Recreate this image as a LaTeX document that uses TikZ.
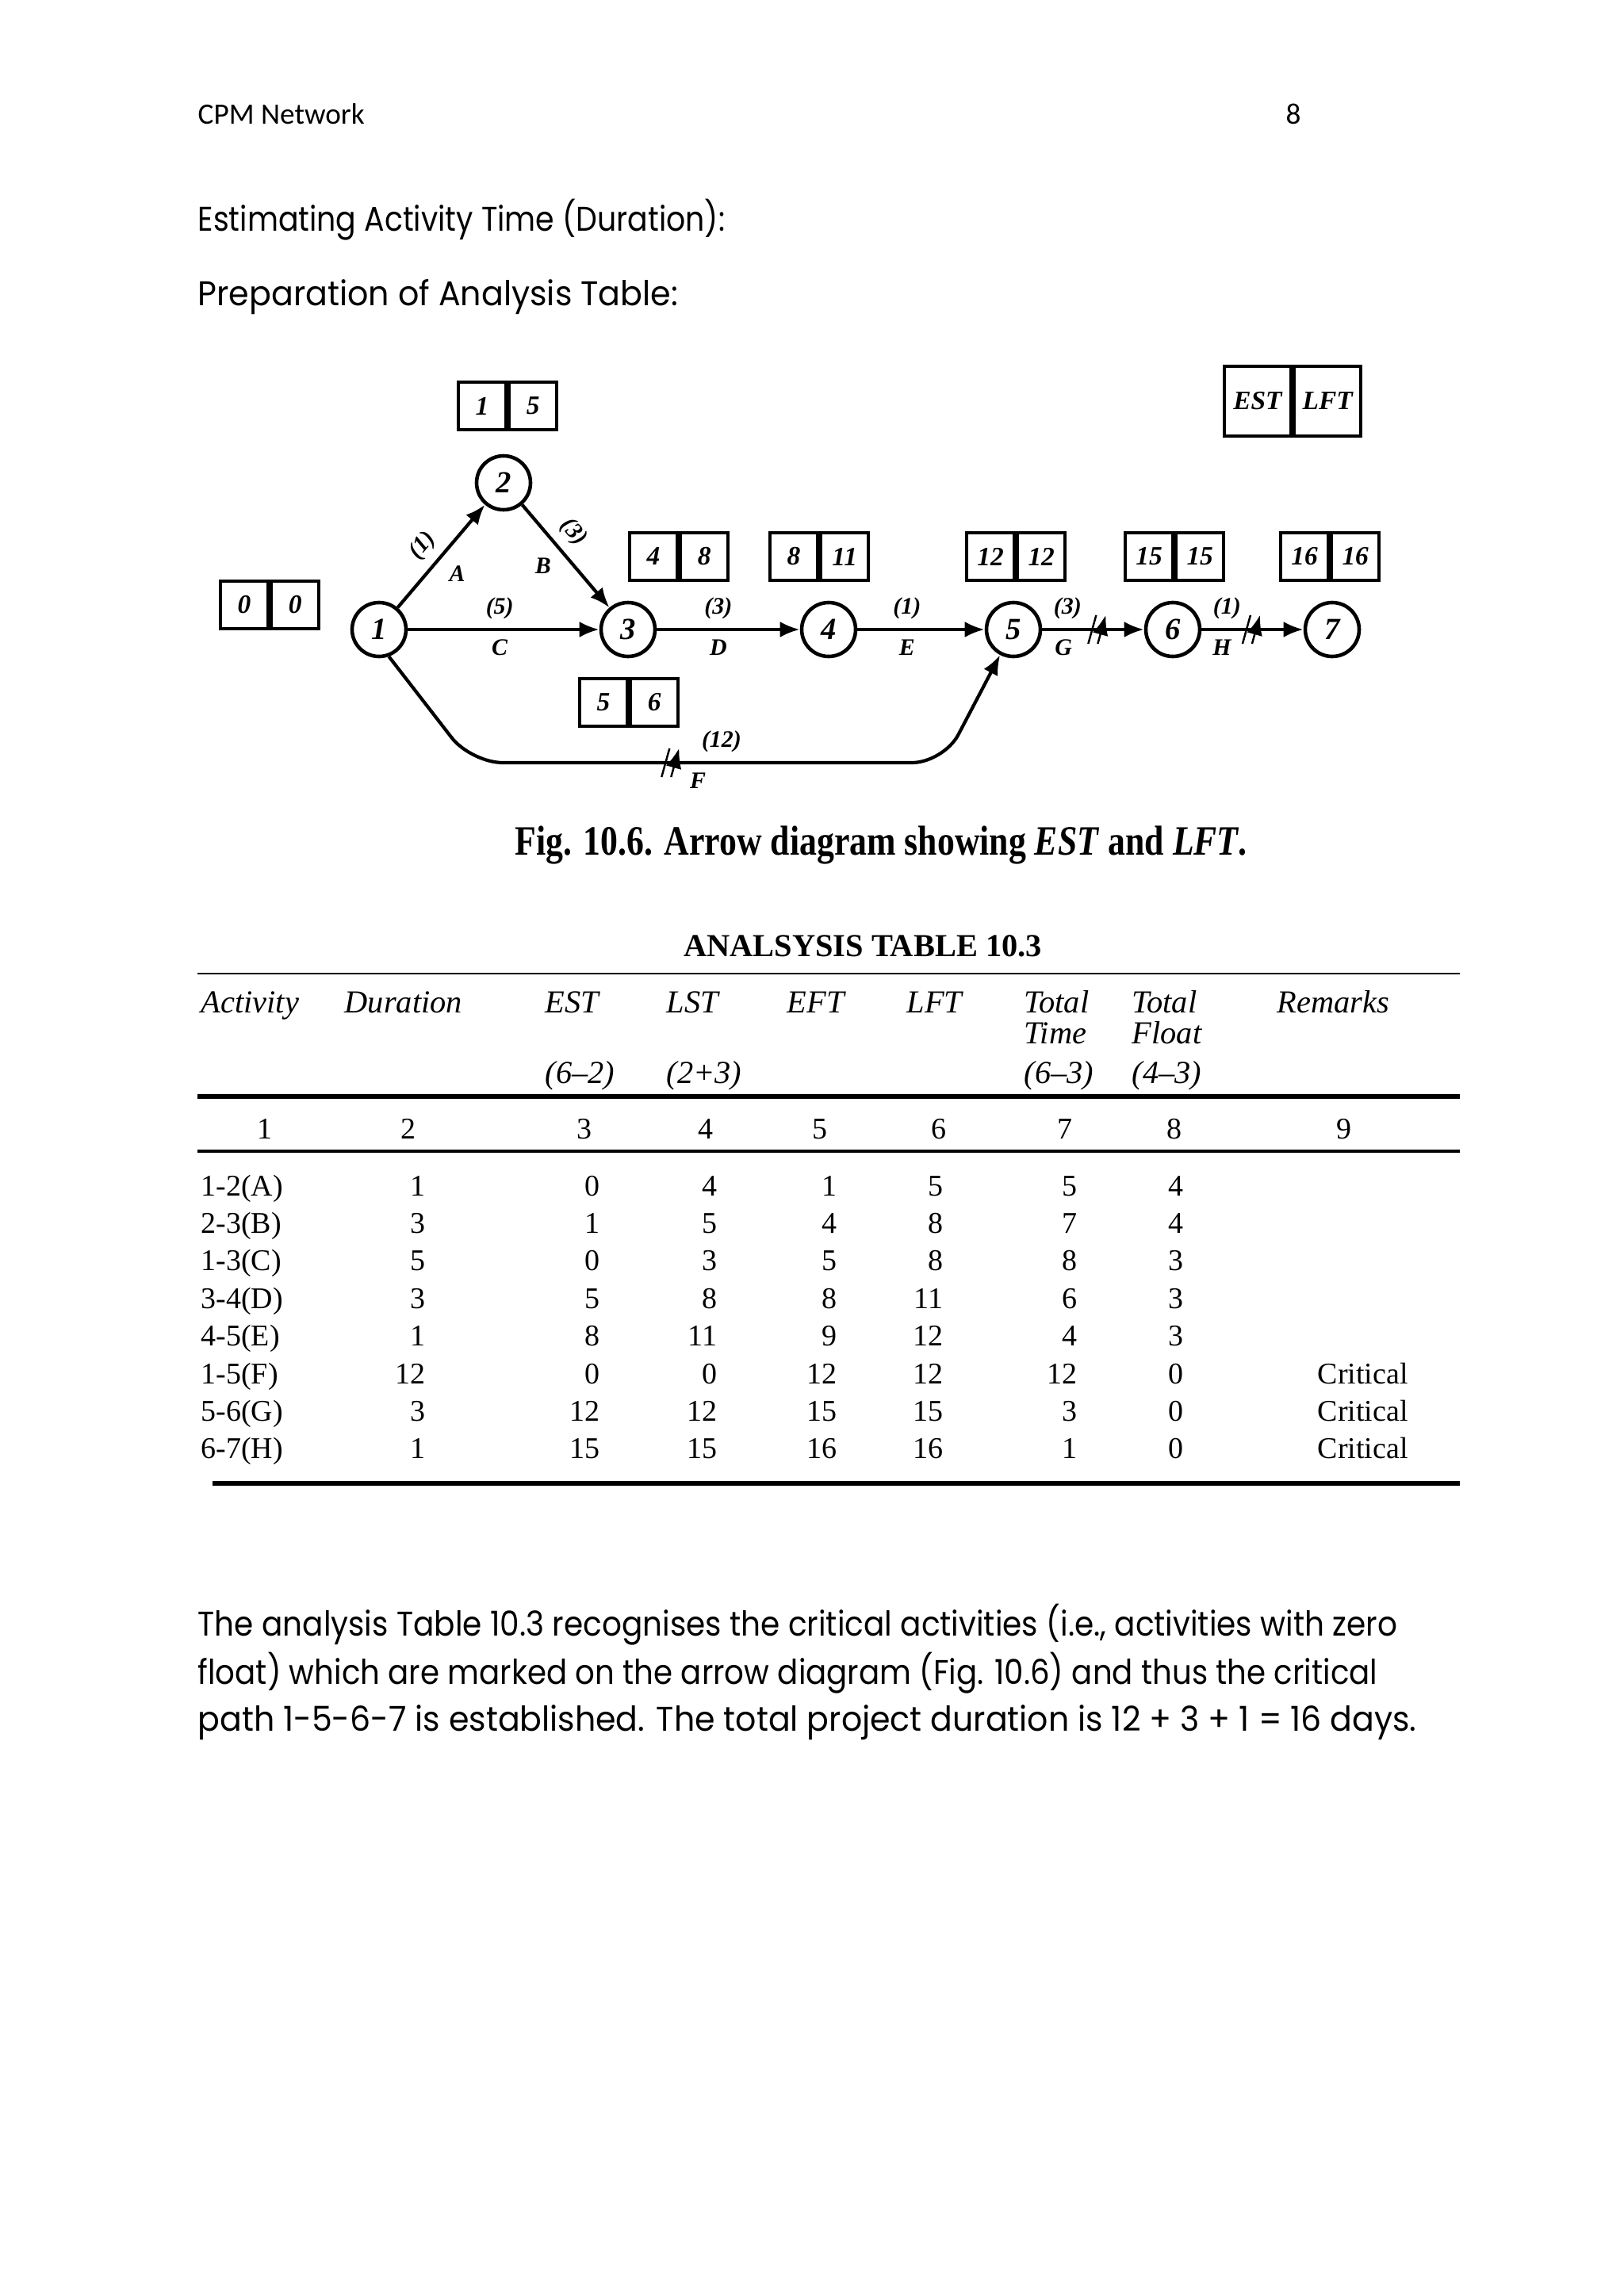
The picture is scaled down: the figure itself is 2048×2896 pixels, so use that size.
\documentclass[tikz,border=0pt]{standalone}
\usepackage{fontspec,graphicx}
\usetikzlibrary{arrows.meta,positioning}
\setmainfont{Liberation Serif}
\newfontfamily\gothic{Poppins}
\newfontfamily\calib{Carlito}
\newcommand\squeeze[2]{\scalebox{#1}[1]{#2}}

\begin{document}
\begin{tikzpicture}[x=0.1mm,y=-0.1mm,>={Latex[length=2.5mm,width=2mm]},
  every node/.style={inner sep=0pt},
  event/.style={draw,circle,line width=1.3pt,minimum size=6.8mm,font=\bfseries\itshape\fontsize{11}{11}\selectfont},
  cell/.style={draw,line width=1.2pt,minimum width=6mm,minimum height=6mm,font=\bfseries\itshape\fontsize{9.5}{9.5}\selectfont},
  keycell/.style={cell,minimum width=8.4mm,minimum height=8.8mm},
  act/.style={->,line width=1.2pt},
  lbl/.style={font=\bfseries\itshape\fontsize{8.5}{8.5}\selectfont,inner sep=1.1mm},
  hashmark/.pic={\draw[line width=.7pt] (-1mm,-1.8mm) -- (0mm,1.8mm) (0.2mm,-1.8mm) -- (1.2mm,1.8mm);},
  thead/.style={font=\itshape\fontsize{11.5}{12}\selectfont,anchor=base west},
  tval/.style={font=\fontsize{10.8}{12}\selectfont,anchor=base east},
  para/.style={font=\gothic\fontsize{12.3}{14}\selectfont,anchor=base west}]
\useasboundingbox (0,0) rectangle (2048,2896);

% page text
\node[font=\calib\fontsize{10.6}{13}\selectfont,anchor=base west] (hdr) at (249,157) {CPM Network};
\node[font=\calib\fontsize{10.6}{13}\selectfont,anchor=base] (pg) at (1631,157) {8};
\node[para] (h1) at (249,292) {\squeeze{0.876}{Estimating Activity Time (Duration):}};
\node[para] (h2) at (249,386) {\squeeze{0.953}{Preparation of Analysis Table:}};

% events
\node[event] (n1) at (478,794) {1};
\node[event] (n2) at (635,609) {2};
\node[event] (n3) at (792,794) {3};
\node[event] (n4) at (1045,794) {4};
\node[event] (n5) at (1278,794) {5};
\node[event] (n6) at (1479,794) {6};
\node[event] (n7) at (1680,794) {7};

% EST | LFT boxes
\node[cell] (e1) at (308,763) {0};  \node[cell,right=0pt of e1] (l1) {0};
\node[cell] (e2) at (608,512) {1};  \node[cell,right=0pt of e2] (l2) {5};
\node[cell] (e3) at (824,702) {4};  \node[cell,right=0pt of e3] (l3) {8};
\node[cell] (e3b) at (761,886) {5}; \node[cell,right=0pt of e3b] (l3b) {6};
\node[cell] (e4) at (1001,702) {8}; \node[cell,right=0pt of e4] (l4) {11};
\node[cell] (e5) at (1249,702) {12}; \node[cell,right=0pt of e5] (l5) {12};
\node[cell] (e6) at (1449,702) {15}; \node[cell,right=0pt of e6] (l6) {15};
\node[cell] (e7) at (1645,702) {16}; \node[cell,right=0pt of e7] (l7) {16};
\node[keycell] (ek) at (1586,506) {EST}; \node[keycell,right=0pt of ek] (lk) {LFT};

% activities
\draw[act] (n1) -- node[lbl,sloped,above,pos=.47]{(1)} node[lbl,below right,inner sep=.9mm,pos=.49]{A} (n2);
\draw[act] (n2) -- node[lbl,sloped,above,pos=.4]{(3)} node[lbl,below left,inner sep=.9mm,pos=.43]{B} (n3);
\draw[act] (n1) -- node[lbl,above,pos=.48]{(5)} node[lbl,below,pos=.48]{C} (n3);
\draw[act] (n3) -- node[lbl,above,pos=.43]{(3)} node[lbl,below,pos=.43]{D} (n4);
\draw[act] (n4) -- node[lbl,above,pos=.39]{(1)} node[lbl,below,pos=.39]{E} (n5);
\draw[act] (n5) -- node[lbl,above,pos=.25]{(3)} node[lbl,below,pos=.21]{G} pic[pos=.53]{hashmark} (n6);
\draw[act] (n6) -- node[lbl,above,pos=.25]{(1)} node[lbl,below,pos=.2]{H} pic[pos=.48]{hashmark} (n7);
\coordinate (fl) at (594,962);
\coordinate (fr) at (1190,962);
\draw[act,rounded corners=4mm] (n1.-70) -- (fl) -- node[lbl,above,pos=.53]{(12)} node[lbl,below,pos=.48]{F} pic[pos=.42]{hashmark} (fr) -- (n5);

\node[font=\bfseries\fontsize{15}{15}\selectfont] (cap) at (1111,1066)
  {\squeeze{0.83}{Fig. 10.6. Arrow diagram showing \textit{EST} and \textit{LFT}.}};

% analysis table
\node[font=\bfseries\fontsize{11.5}{12}\selectfont] (ttl) at (1088,1193) {ANALSYSIS TABLE 10.3};
\draw[line width=0.8pt] (249,1228) -- (1841,1228);
\draw[line width=1.6pt] (249,1383) -- (1841,1383);
\draw[line width=1.1pt] (249,1452) -- (1841,1452);
\draw[line width=1.6pt] (268,1871) -- (1841,1871);

\node[thead] (hA) at (253,1277) {Activity};
\node[thead] (hB) at (434,1277) {Duration};
\node[thead] (hC) at (687,1277) {EST};
\node[thead] (hD) at (840,1277) {LST};
\node[thead] (hE) at (992,1277) {EFT};
\node[thead] (hF) at (1143,1277) {LFT};
\node[thead] (hG) at (1291,1277) {Total};
\node[thead] (hH) at (1427,1277) {Total};
\node[thead] (hI) at (1610,1277) {Remarks};
\node[thead] (hG2) at (1291,1316) {Time};
\node[thead] (hH2) at (1427,1316) {Float};
\node[thead] (hC3) at (687,1366) {(6–2)};
\node[thead] (hD3) at (840,1366) {(2+3)};
\node[thead] (hG3) at (1291,1366) {(6–3)};
\node[thead] (hH3) at (1427,1366) {(4–3)};

\foreach \x [count=\k] in {334,515,737,890,1034,1184,1343,1481,1695}
  \node[tval,anchor=base] (col\k) at (\x,1436) {\k};

\foreach \ac/\du/\es/\ls/\ef/\lf/\tm/\fl/\rk [count=\i] in {
  1-2(A)/1/0/4/1/5/5/4/{},
  2-3(B)/3/1/5/4/8/7/4/{},
  1-3(C)/5/0/3/5/8/8/3/{},
  3-4(D)/3/5/8/8/11/6/3/{},
  4-5(E)/1/8/11/9/12/4/3/{},
  1-5(F)/12/0/0/12/12/12/0/Critical,
  5-6(G)/3/12/12/15/15/3/0/Critical,
  6-7(H)/1/15/15/16/16/1/0/Critical}{
  \pgfmathsetmacro\yb{1508+47.4*(\i-1)}
  \node[tval,anchor=base west] (ac\i) at (253,\yb) {\ac};
  \node[tval] (du\i) at (537,\yb) {\du};
  \node[tval] (es\i) at (757,\yb) {\es};
  \node[tval] (ls\i) at (905,\yb) {\ls};
  \node[tval] (ef\i) at (1056,\yb) {\ef};
  \node[tval] (lf\i) at (1190,\yb) {\lf};
  \node[tval] (tm\i) at (1359,\yb) {\tm};
  \node[tval] (fl\i) at (1493,\yb) {\fl};
  \node[tval,anchor=base west] (rk\i) at (1661,\yb) {\rk};
}

% closing paragraph
\node[para] (p1) at (249,2063) {\squeeze{0.902}{The analysis Table 10.3 recognises the critical activities (i.e., activities with zero}};
\node[para] (p2) at (249,2124) {\squeeze{0.896}{float) which are marked on the arrow diagram (Fig. 10.6) and thus the critical}};
\node[para] (p3) at (249,2183) {\squeeze{0.95}{path 1-5-6-7 is established. The total project duration is 12 + 3 + 1 = 16 days.}};
\end{tikzpicture}
\end{document}
